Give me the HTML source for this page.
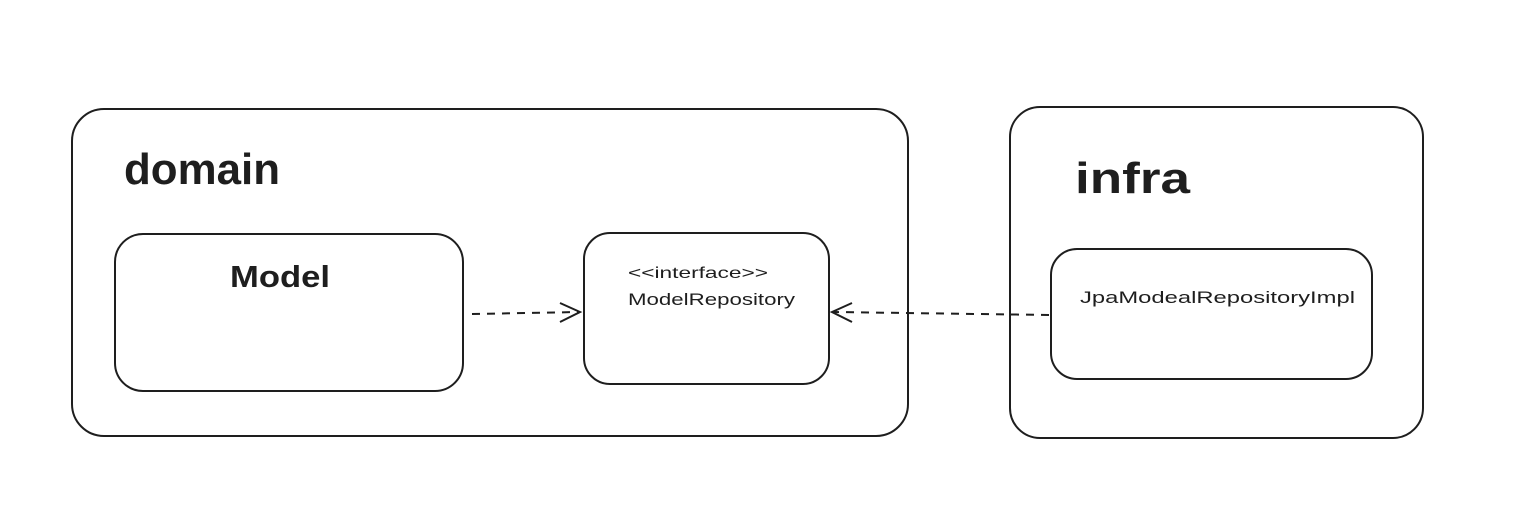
<!DOCTYPE html>
<html>
<head>
<meta charset="utf-8">
<style>
html,body{margin:0;padding:0;background:#fff;}
svg{display:block;}
text{font-family:"Liberation Sans",sans-serif;fill:#1e1e1e;}
</style>
</head>
<body>
<svg width="1528" height="510" viewBox="0 0 1528 510" xmlns="http://www.w3.org/2000/svg">
<rect x="0" y="0" width="1528" height="510" fill="#ffffff"/>
<g fill="none" stroke="#1e1e1e" stroke-width="2">
  <rect x="72" y="109" width="836" height="327" rx="32"/>
  <rect x="1010" y="107" width="413" height="331" rx="30"/>
  <rect x="115" y="234" width="348" height="157" rx="28"/>
  <rect x="584" y="233" width="245" height="151" rx="26"/>
  <rect x="1051" y="249" width="321" height="130" rx="26"/>
  <path d="M472 314 L579 312" stroke-dasharray="8 7"/>
  <path d="M560 303 L580 312 L560 322"/>
  <path d="M1049 315 L834 312" stroke-dasharray="8 7"/>
  <path d="M852 303 L832 312 L852 322"/>
</g>
<text x="124" y="184" font-size="44" font-weight="bold" textLength="156" lengthAdjust="spacingAndGlyphs">domain</text>
<text x="1075" y="193" font-size="44" font-weight="bold" textLength="115" lengthAdjust="spacingAndGlyphs">infra</text>
<text x="230" y="287" font-size="31" font-weight="bold" textLength="100" lengthAdjust="spacingAndGlyphs">Model</text>
<text x="628" y="278" font-size="16" textLength="140" lengthAdjust="spacingAndGlyphs">&lt;&lt;interface&gt;&gt;</text>
<text x="628" y="305" font-size="17" textLength="167" lengthAdjust="spacingAndGlyphs">ModelRepository</text>
<text x="1080" y="303" font-size="17" textLength="275" lengthAdjust="spacingAndGlyphs">JpaModealRepositoryImpl</text>
</svg>
</body>
</html>
